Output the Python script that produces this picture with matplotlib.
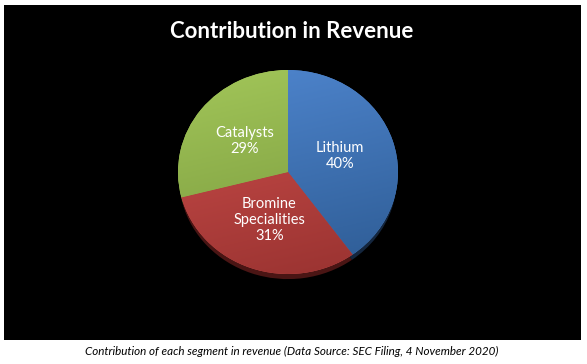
import numpy as np
import matplotlib as mpl
import matplotlib.pyplot as plt
from matplotlib.colors import LinearSegmentedColormap
from matplotlib.patches import Rectangle

plt.rcParams['font.family'] = ['Lato', 'DejaVu Sans']

# data
segments = ['Lithium', 'Bromine\nSpecialities', 'Catalysts']
shares = [40, 31, 29]
# (lighter top, darker bottom) colour of each slice
top_colors = ['#4f86cf', '#d0504d', '#a2c659']
bottom_colors = ['#2d5b93', '#983230', '#76953b']
shadow_colors = ['#14263e', '#4a1514', '#3a4a1c']

title = 'Contribution in Revenue'
caption = 'Contribution of each segment in revenue (Data Source: SEC Filing, 4 November 2020)'

W, H = 587, 364
fig = plt.figure(figsize=(W / 100, H / 100), dpi=100, facecolor='white')

# black chart area
fig.add_artist(Rectangle((4 / W, (H - 340) / H), 577 / W, 335 / H,
                         transform=fig.transFigure, facecolor='black',
                         edgecolor='none', zorder=-10))

#%% pie, slightly wider than tall like the Excel original
cx, cy = 288, 172
rx, ry = 110, 102
ax = fig.add_axes([(cx - 1.2 * rx) / W, (H - cy - 1.2 * ry) / H,
                   2.4 * rx / W, 2.4 * ry / H])
ax.set_facecolor('none')
ax.set_zorder(1)

# drop shadow under the pie
sh, _ = ax.pie(shares, colors=shadow_colors, startangle=90, counterclock=False,
               radius=0.99, center=(0.0, -0.06))
for w in sh:
    w.set_zorder(1)

labels = [f'{s}\n{p}%' for s, p in zip(segments, shares)]
wedges, texts = ax.pie(shares, labels=labels, colors=top_colors, startangle=90,
                       counterclock=False, radius=1, labeldistance=0.5,
                       textprops=dict(color='white', fontsize=10.5, linespacing=1.2))
for t in texts:
    t.set_ha('center')
    t.set_va('center')
    t.set_zorder(5)

# gradient fill clipped to each slice
yy, xx = np.mgrid[-1:1:200j, -1:1:200j]
grad = (yy - 0.25 * xx + 1.25) / 2.5
for w, ct, cb in zip(wedges, top_colors, bottom_colors):
    w.set_zorder(2)
    cmap = LinearSegmentedColormap.from_list('g', [cb, ct])
    im = ax.imshow(grad, extent=(-1, 1, -1, 1), origin='lower', cmap=cmap,
                   aspect='auto', zorder=3, interpolation='bilinear')
    im.set_clip_path(w)

ax.set_aspect('auto')
ax.set_xlim(-1.2, 1.2)
ax.set_ylim(-1.2, 1.2)
ax.axis('off')

#%% texts
fig.text(292 / W, 1 - 31 / H, title, color='white', fontsize=16,
         fontweight='bold', ha='center', va='center')
fig.text(292 / W, 1 - 351 / H, caption, color='black', fontsize=8.4,
         style='italic', ha='center', va='center')

fig.savefig('out.png', dpi=100, facecolor='white')
